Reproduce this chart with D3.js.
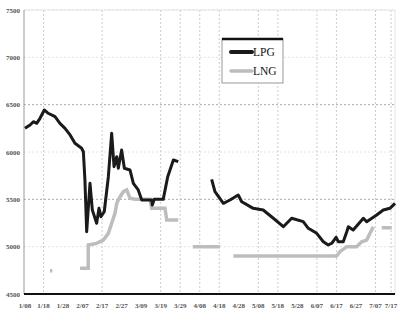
<!DOCTYPE html>
<html><head><meta charset="utf-8">
<script src="https://cdn.jsdelivr.net/npm/d3@7"></script>
<style>body{margin:0;background:#fff}svg{display:block}</style>
</head><body>
<script>
// ---- data ----
const yTicks = [4500, 5000, 5500, 6000, 6500, 7000, 7500];
const xLabels = ["1/08","1/18","1/28","2/07","2/17","2/27","3/09","3/19","3/29","4/08","4/18","4/28","5/08","5/18","5/28","6/07","6/17","6/27","7/07","7/17"];
const xLabelPos = [0.5,10,20,30,40,50,60,70,80,90,100,110,120,130,140,150,160,170,180,188];
const gridIdx = [1,4,7,8,9,10,12,13,15,16,18,19];
const seriesNames = ["LPG","LNG"];
// [t, value]; null marks a gap
const lpg = [
 [0.5,6250],[3.1,6285],[4.8,6320],[6.5,6303],[8.2,6356],[10.4,6444],[12.4,6409],[15.9,6373],
 [18.4,6303],[21,6250],[23.6,6180],[26.1,6092],[29.5,6039],[30.4,6003],[31.2,5704],[32.1,5158],
 [33.8,5669],[35,5387],[37.2,5247],[38.4,5405],[39.4,5317],[41.1,5369],[43.2,5739],[44.9,6197],
 [46.1,5845],[47.5,5950],[48.3,5828],[50,6021],[51.4,5828],[54.3,5810],[56,5669],[58.5,5599],
 [60.3,5493],[65.4,5493],[65.7,5440],[66.7,5500],[71.3,5500],[73.6,5739],[76.5,5915],[79,5898],
 null,
 [96.1,5712],[97.8,5581],[102.1,5458],[105.5,5493],[109.7,5546],[111.5,5475],[117.4,5405],[122.5,5387],
 [127.7,5300],[132.8,5211],[137.1,5300],[143,5264],[145.6,5194],[149.9,5141],[153.3,5052],[155.8,5018],
 [157.6,5036],[159.8,5099],[161,5052],[163.5,5052],[165.3,5158],[166.1,5211],[168.6,5176],[173.8,5300],
 [175.5,5264],[180.6,5334],[184,5387],[187.4,5405],[190,5458]
];
const lng = [
 [13.3,4746],[14.5,4746],
 null,
 [28.7,4771],[32.9,4771],[32.9,5018],[37.2,5035],[40.6,5070],[43.2,5141],[44.9,5247],[46.6,5352],
 [47.5,5458],[49.2,5528],[50.9,5581],[52.6,5599],[54.3,5511],[56.8,5500],[64.5,5500],[65.4,5405],
 [72.2,5405],[73.1,5282],[79,5282],
 null,
 [86.5,5000],[100.4,5000],
 null,
 [107.2,4901],[160.1,4901],[161.8,4947],[165.3,5000],[170.4,5000],[172.9,5052],[175.5,5070],
 [177.2,5141],[178.9,5211],
 null,
 [183.2,5200],[188.3,5200]
];

// ---- chart ----
const W = 400, H = 319;
const m = {l:24, r:5, t:10, b:25};
const svg = d3.select("body").append("svg").attr("width", W).attr("height", H);
const x = d3.scaleLinear().domain([0,190]).range([m.l, W - m.r]);
const y = d3.scaleLinear().domain([4500,7500]).range([H - m.b, m.t]);

// horizontal grid
svg.append("g").selectAll("line").data(yTicks.slice(1)).join("line")
  .attr("x1", m.l).attr("x2", W - m.r)
  .attr("y1", d => y(d)).attr("y2", d => y(d))
  .attr("stroke", d => (d === 5500 || d === 6500) ? "#aaa" : "#e2e2e2")
  .attr("stroke-dasharray", "2,2").attr("stroke-width", 1);
// vertical grid
svg.append("g").selectAll("line").data(gridIdx).join("line")
  .attr("x1", i => x(xLabelPos[i])).attr("x2", i => x(xLabelPos[i]))
  .attr("y1", m.t).attr("y2", H - m.b)
  .attr("stroke", "#ccc").attr("stroke-dasharray", "2,2");
// frame
svg.append("line").attr("x1", m.l).attr("x2", W - m.r).attr("y1", m.t).attr("y2", m.t).attr("stroke", "#e4e4e4");
svg.append("line").attr("x1", W - m.r).attr("x2", W - m.r).attr("y1", m.t).attr("y2", H - m.b).attr("stroke", "#e4e4e4");
svg.append("line").attr("x1", m.l).attr("x2", m.l).attr("y1", m.t).attr("y2", H - m.b).attr("stroke", "#999");

// y labels
svg.append("g").selectAll("text").data(yTicks).join("text")
  .attr("x", m.l - 4).attr("y", d => y(d) + 2.5)
  .attr("text-anchor", "end").attr("font-family", "Liberation Serif").attr("font-size", 7)
  .attr("font-weight", "bold").attr("fill", "#555").text(d => d);
// x labels
svg.append("g").selectAll("text").data(xLabels).join("text")
  .attr("x", (d,i) => x(xLabelPos[i])).attr("y", H - m.b + 14)
  .attr("text-anchor", "middle").attr("font-family", "Liberation Serif").attr("font-size", 7)
  .attr("font-weight", "bold").attr("fill", "#555").text(d => d);

const line = d3.line().defined(d => d !== null).x(d => x(d[0])).y(d => y(d[1]));
svg.append("path").datum(lng).attr("d", line).attr("fill", "none")
  .attr("stroke", "#bdbdbd").attr("stroke-width", 3.5);
svg.append("path").datum(lpg).attr("d", line).attr("fill", "none")
  .attr("stroke", "#1a1a1a").attr("stroke-width", 3).attr("stroke-linejoin", "round");

// bottom axis line
svg.append("line").attr("x1", m.l).attr("x2", W - m.r).attr("y1", H - m.b).attr("y2", H - m.b)
  .attr("stroke", "#111").attr("stroke-width", 2);

// legend
const lg = svg.append("g").attr("transform", "translate(222,39)");
lg.append("rect").attr("width", 61).attr("height", 44).attr("fill", "#fff").attr("stroke", "#999");
lg.append("line").attr("x1", 0).attr("x2", 61).attr("y1", 0).attr("y2", 0).attr("stroke", "#111").attr("stroke-width", 2.5);
const cols = {LPG:"#1a1a1a", LNG:"#bdbdbd"};
seriesNames.forEach((n, i) => {
  const yy = 13 + i * 19;
  lg.append("line").attr("x1", 9).attr("x2", 30).attr("y1", yy).attr("y2", yy)
    .attr("stroke", cols[n]).attr("stroke-width", i === 0 ? 4 : 3.5).attr("stroke-linecap", "round");
  lg.append("text").attr("x", 31).attr("y", yy + 4).attr("font-family", "Liberation Serif")
    .attr("font-size", 11.5).attr("fill", "#111").text(n);
});
</script>
</body></html>
